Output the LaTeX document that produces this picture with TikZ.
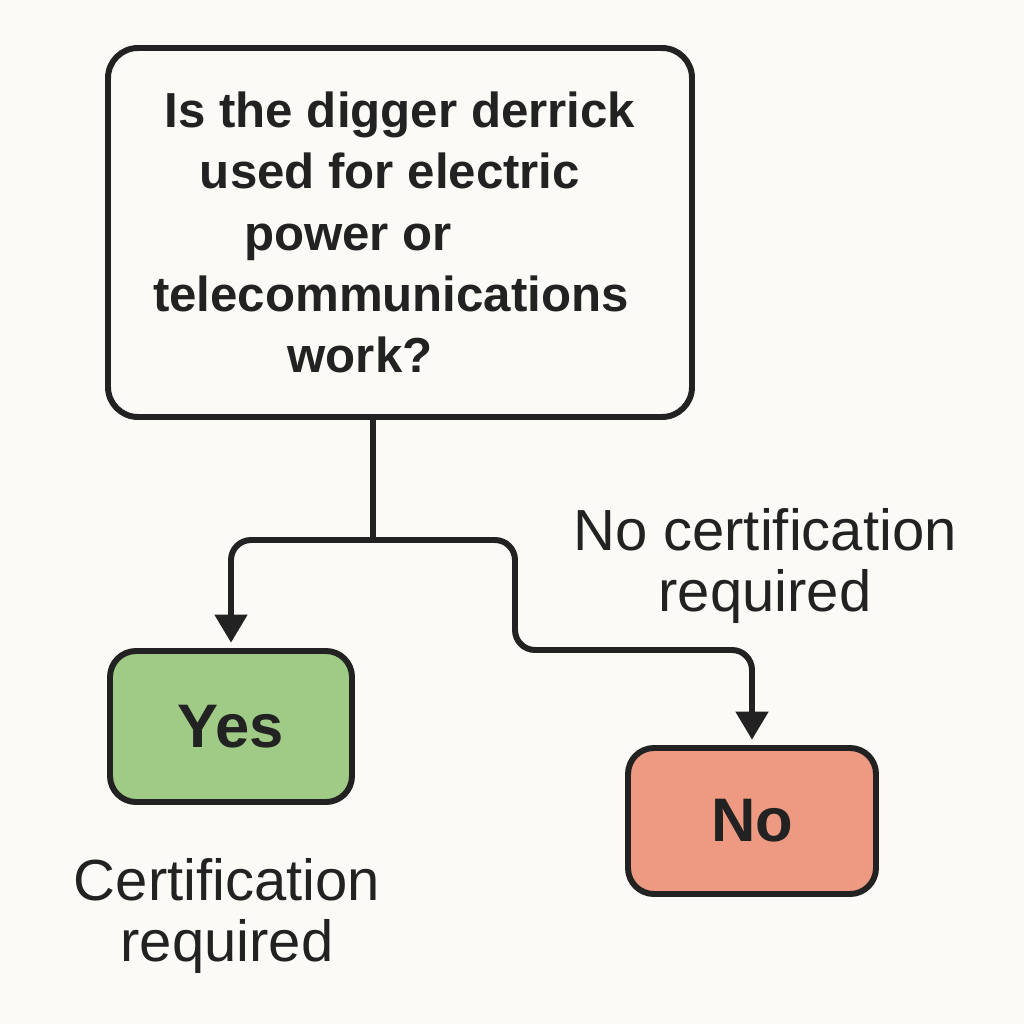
\documentclass[tikz,border=0pt]{standalone}
\usepackage{fontspec}
\setmainfont{Liberation Sans}
\usetikzlibrary{arrows.meta}
\definecolor{paper}{HTML}{FCFAF6}
\definecolor{ink}{HTML}{222222}
\definecolor{yesgreen}{HTML}{9FCB86}
\definecolor{nored}{HTML}{EE9A82}

\begin{document}
\begin{tikzpicture}[x=0.1mm,y=-0.1mm,
        qbox/.style={draw=ink,line width=1.7pt,rounded corners=3mm,fill=paper,text=ink,align=center,inner sep=0pt},
        answer/.style={draw=ink,line width=1.7pt,rounded corners=2.6mm,text=ink,inner sep=0pt,
            font=\fontsize{17.5pt}{20pt}\selectfont\bfseries},
        note/.style={align=center,text=ink,font=\fontsize{16.5pt}{17.2pt}\selectfont},
        flow/.style={draw=ink,line width=1.7pt,rounded corners=2mm,shorten >=1.5pt,-{Triangle[width=9pt,length=8pt]}}]
        \fill[paper] (0,0) rectangle (1024,1024);
        \useasboundingbox (0,0) rectangle (1024,1024);
        \node[qbox,minimum width=58.4mm,minimum height=36.9mm,font=\fontsize{14pt}{17.4pt}\selectfont\bfseries] (question) at (400,232.5)
            {Is the digger derrick\\ used for electric\rule{2mm}{0pt}\\ power or\rule{10.4mm}{0pt}\\
             telecommunications\rule{1.8mm}{0pt}\\ work?\rule{8mm}{0pt}};
        \node[answer,fill=yesgreen,minimum width=24.2mm,minimum height=15.1mm] (yes) at (231,726.5) {Yes};
        \node[answer,fill=nored,minimum width=24.8mm,minimum height=14.6mm] (no) at (752,821) {No};
        \node[note] (nocert) at (765,566) {No certification\\ required};
        \node[note] (cert) at (227,916) {Certification\\ required};
        \coordinate (split) at (373,540);
        \coordinate (bend) at (515,650);
        \draw[ink,line width=1.7pt] (question.south -| split) -- (split);
        \draw[flow] (split) -| (yes.north);
        \draw[flow] (split) -| (bend) -| (no.north);
\end{tikzpicture}
\end{document}
